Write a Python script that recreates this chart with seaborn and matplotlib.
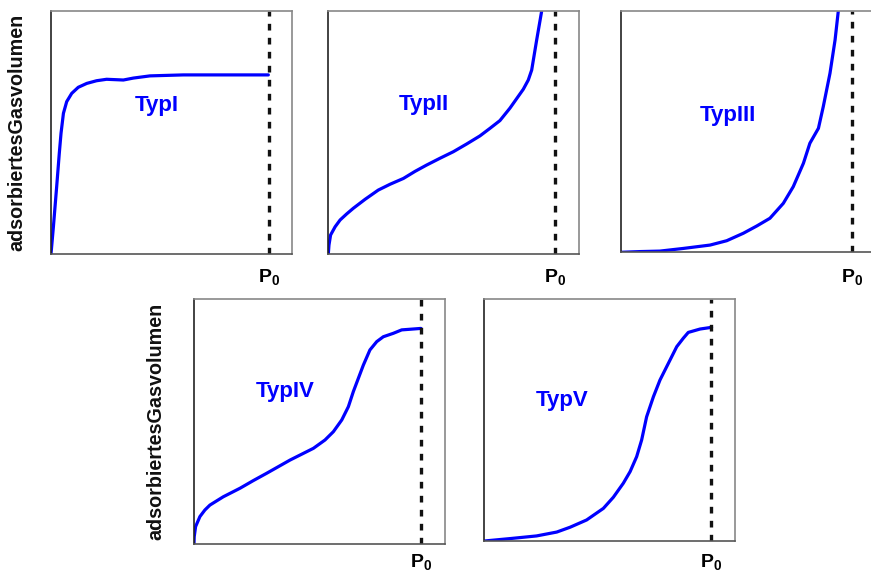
import matplotlib
matplotlib.use("Agg")
import matplotlib.pyplot as plt
import seaborn as sns
import pandas as pd

# ---- data (relative pressure p/P0, adsorbed volume, normalised) ----
typ1_x = [0.0, 0.011, 0.026, 0.038, 0.046, 0.057, 0.072, 0.095, 0.125, 0.164, 0.209,
          0.255, 0.332, 0.378, 0.454, 0.530, 0.607, 0.997]
typ1_y = [0.0, 0.112, 0.277, 0.414, 0.497, 0.579, 0.627, 0.661, 0.686, 0.702, 0.713,
          0.719, 0.716, 0.724, 0.733, 0.735, 0.737, 0.737]

typ2_x = [0.0, 0.003, 0.010, 0.030, 0.052, 0.081, 0.110, 0.162, 0.220, 0.272, 0.331, 0.382,
          0.433, 0.492, 0.551, 0.610, 0.668, 0.712, 0.756, 0.800, 0.859, 0.881, 0.896, 0.918, 0.940]
typ2_y = [0.0, 0.037, 0.078, 0.112, 0.140, 0.165, 0.188, 0.225, 0.263, 0.287, 0.311, 0.340,
          0.366, 0.394, 0.421, 0.453, 0.486, 0.517, 0.549, 0.600, 0.678, 0.716, 0.757, 0.881, 1.0]

typ3_x = [0.0, 0.084, 0.170, 0.271, 0.387, 0.459, 0.531, 0.589, 0.646, 0.704, 0.747, 0.791,
          0.819, 0.856, 0.877, 0.906, 0.928, 0.942]
typ3_y = [0.0, 0.003, 0.005, 0.016, 0.030, 0.048, 0.079, 0.109, 0.141, 0.203, 0.272, 0.369,
          0.452, 0.514, 0.604, 0.742, 0.880, 1.0]

typ4_x = [0.0, 0.001, 0.007, 0.026, 0.048, 0.070, 0.129, 0.203, 0.261, 0.320, 0.423, 0.526,
          0.577, 0.614, 0.651, 0.680, 0.702, 0.724, 0.746, 0.775, 0.805, 0.834, 0.878, 0.915, 1.0]
typ4_y = [0.003, 0.030, 0.071, 0.112, 0.139, 0.159, 0.193, 0.228, 0.259, 0.289, 0.343, 0.391,
          0.425, 0.459, 0.507, 0.561, 0.623, 0.677, 0.731, 0.793, 0.827, 0.847, 0.861, 0.875, 0.881]

typ5_x = [0.0, 0.114, 0.231, 0.320, 0.379, 0.452, 0.526, 0.570, 0.614, 0.644, 0.673, 0.695,
          0.717, 0.747, 0.776, 0.813, 0.850, 0.879, 0.901, 0.953, 1.004]
typ5_y = [0.0, 0.010, 0.021, 0.037, 0.057, 0.087, 0.135, 0.181, 0.239, 0.287, 0.349, 0.418,
          0.514, 0.597, 0.666, 0.735, 0.804, 0.839, 0.863, 0.877, 0.884]

labels = ["TypI", "TypII", "TypIII", "TypIV", "TypV"]
label_pos = [(0.485, 0.613), (0.419, 0.617), (0.466, 0.569), (0.401, 0.622), (0.343, 0.583)]
ylabel_text = "adsorbiertesGasvolumen"
p0_text = "$P_0$"

sns.set_theme(style="white")
plt.rcParams["font.family"] = ["Liberation Sans", "DejaVu Sans"]
plt.rcParams["mathtext.fontset"] = "custom"
plt.rcParams["mathtext.rm"] = "Liberation Sans:bold"
plt.rcParams["mathtext.bf"] = "Liberation Sans:bold"
plt.rcParams["mathtext.it"] = "Liberation Sans:bold"
plt.rcParams["mathtext.default"] = "bf"

fig = plt.figure(figsize=(8.71, 5.74), dpi=100)

W, H = 871.0, 574.0
# (left, right, top, bottom, dashed-line px, P0 label centre y px)
boxes = [
    (51, 292, 11, 254, 269, 277),
    (328.3, 579.3, 11, 254, 555.3, 277),
    (620.7, 872, 11, 252.3, 851.7, 277),
    (194, 445, 299.3, 544, 421, 562),
    (484.3, 735, 299.3, 541, 710.7, 562),
]
series = [(typ1_x, typ1_y), (typ2_x, typ2_y), (typ3_x, typ3_y), (typ4_x, typ4_y), (typ5_x, typ5_y)]

for i, ((l, r, t, b, d, py), (xs, ys)) in enumerate(zip(boxes, series)):
    ax = fig.add_axes([l / W, 1 - b / H, (r - l) / W, (b - t) / H])
    df = pd.DataFrame({"x": xs, "y": ys})
    sns.lineplot(data=df, x="x", y="y", ax=ax, color="#0000ff", lw=2.3,
                 sort=False, estimator=None)
    ax.set_xlim(0, (r - l) / (d - l))
    ax.set_ylim(0, 1)
    ax.axvline(1.0, color="#111111", lw=2.4, linestyle=(0, (2.0, 2.2)))
    ax.set_xticks([])
    ax.set_yticks([])
    ax.set_xlabel("")
    ax.set_ylabel("")
    ax.spines["left"].set_color("#222222")
    ax.spines["bottom"].set_color("#555555")
    ax.spines["top"].set_color("#888888")
    ax.spines["right"].set_color("#888888")
    for s in ax.spines.values():
        s.set_linewidth(1.2)
    if i == 2:
        ax.spines["right"].set_visible(False)
    lx, ly = label_pos[i]
    ax.text(lx, ly, labels[i], color="#0000ff", fontsize=16, fontweight="bold",
            ha="center", va="center", transform=ax.transData)
    ax.text(1.0, -(py - b) / (b - t), p0_text,
            fontsize=14, ha="center", va="center",
            transform=ax.get_xaxis_transform(), color="black")
    if i in (0, 3):
        ax.set_ylabel(ylabel_text, fontsize=14.2, fontweight="bold", color="#111111")
        ax.yaxis.set_label_coords(-0.104 if i == 0 else -0.114, 0.5)

fig.savefig("out.png", dpi=100)
